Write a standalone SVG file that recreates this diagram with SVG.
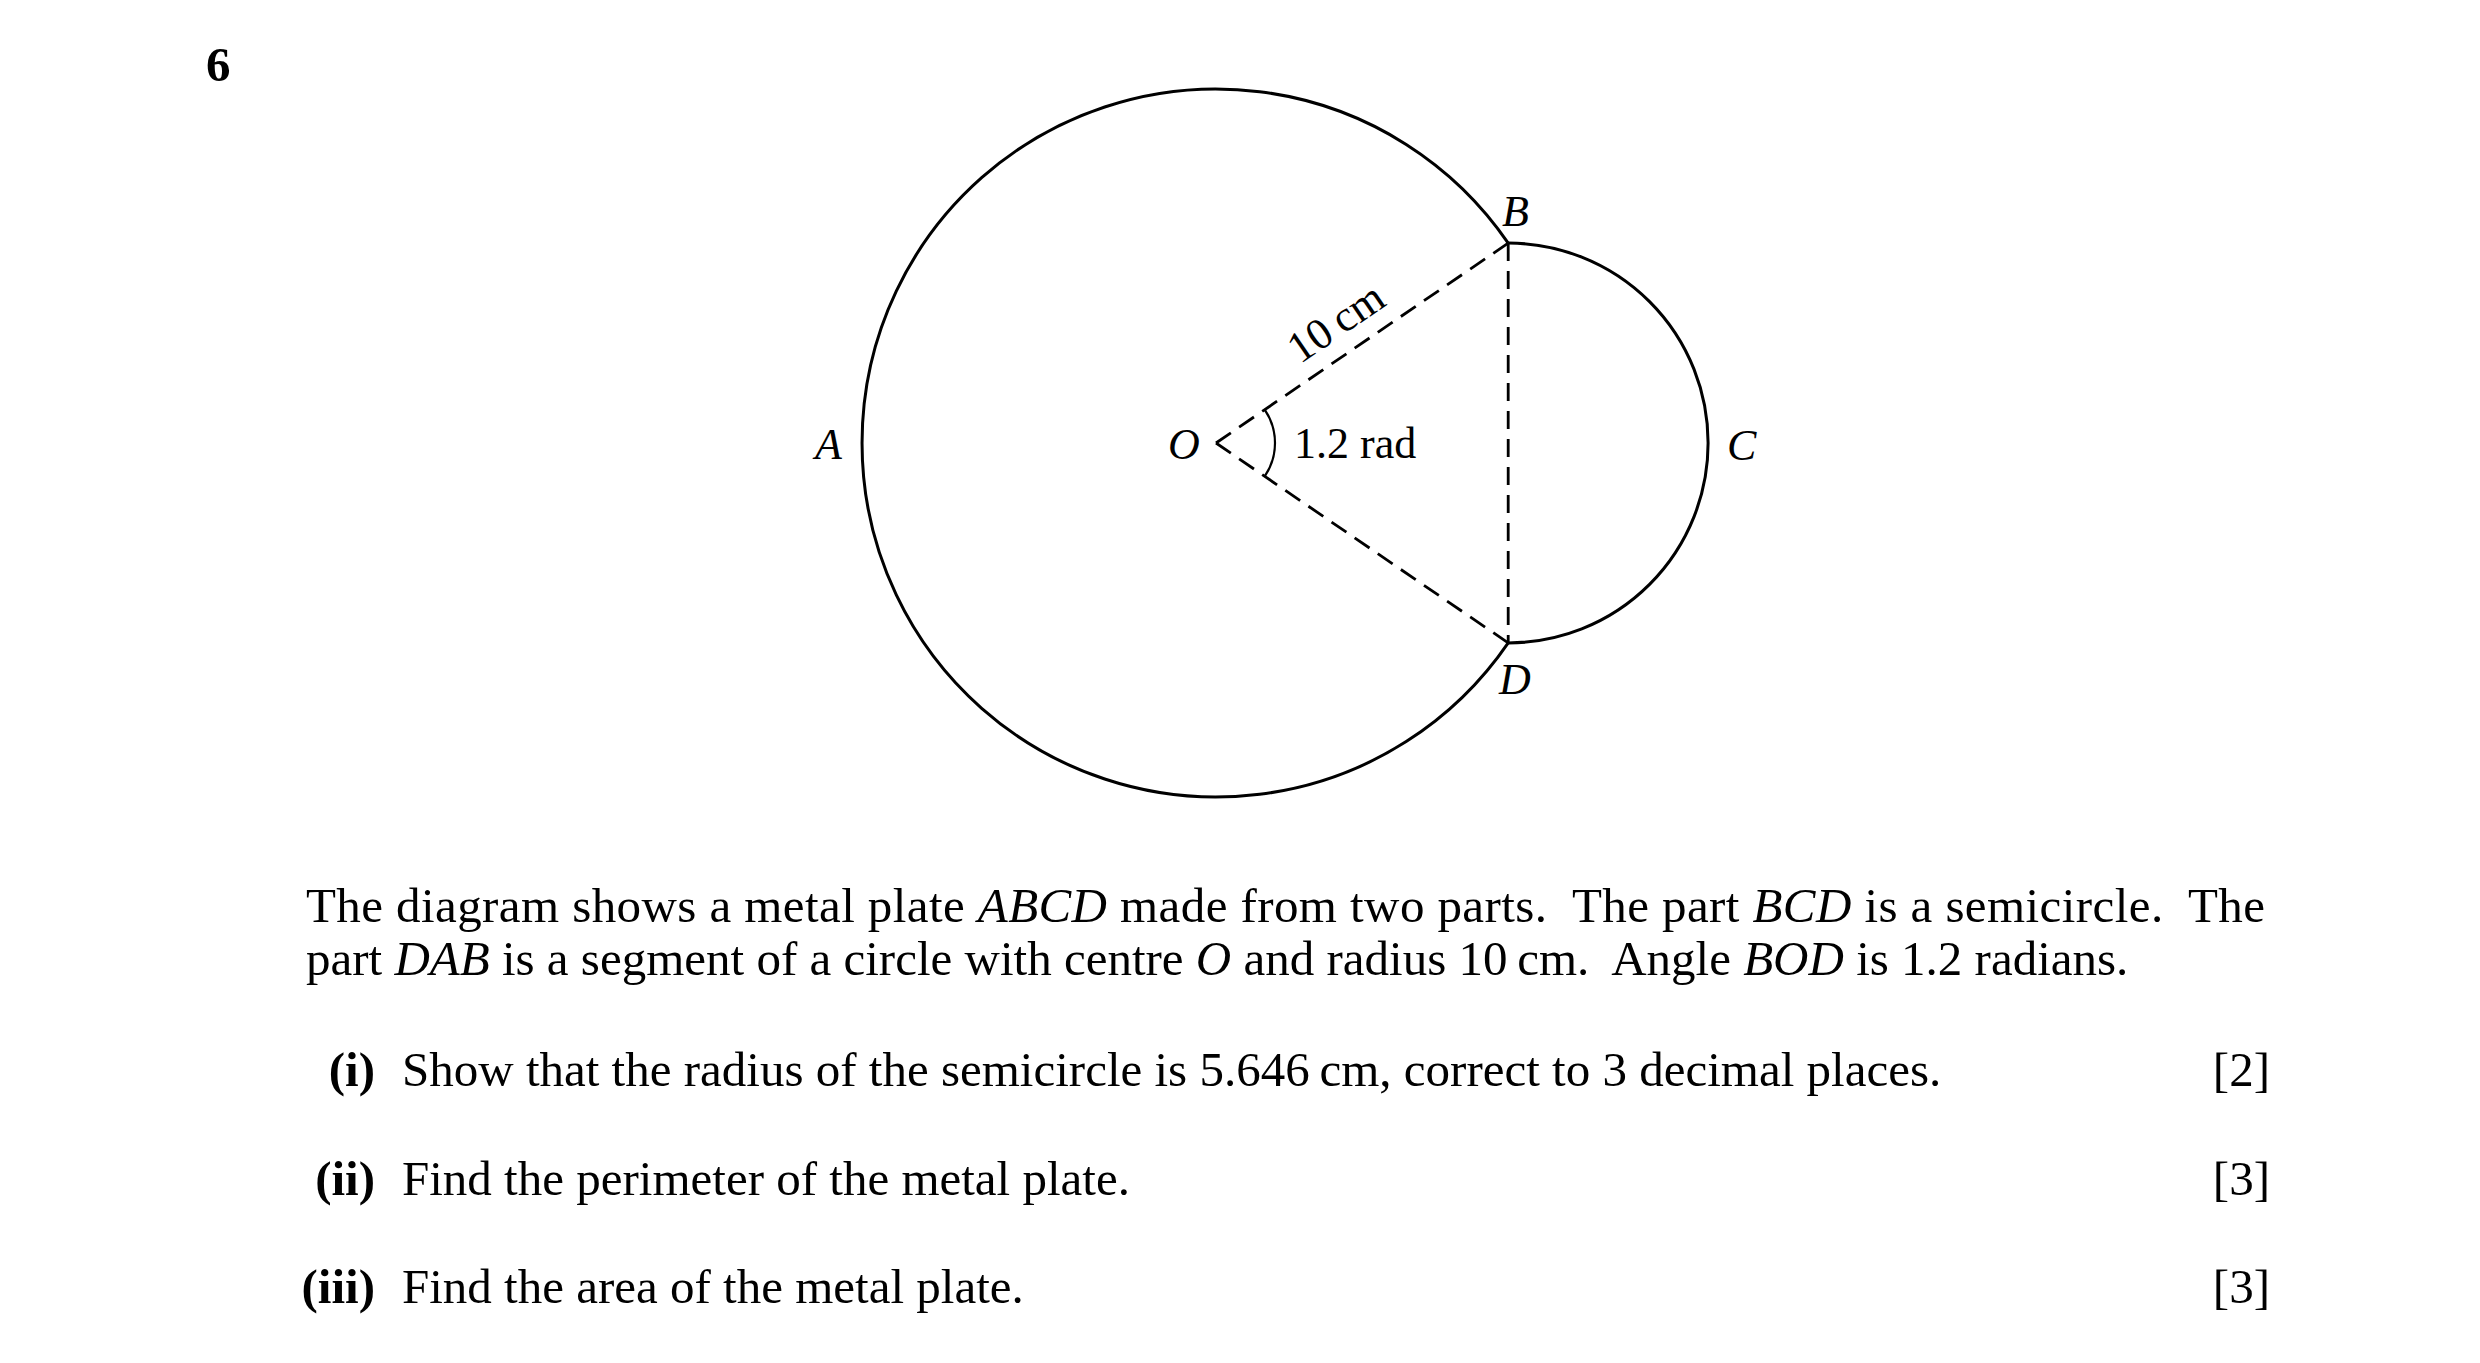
<svg xmlns="http://www.w3.org/2000/svg" width="2480" height="1363" viewBox="0 0 2480 1363">
<style>
.t{font-family:"Liberation Serif","Times New Roman",serif;font-size:49px;fill:#000;white-space:pre}
.b{font-weight:bold}
.i{font-style:italic}
.lab{font-family:"Liberation Serif","Times New Roman",serif;font-size:44px;fill:#000}
.solid{fill:none;stroke:#000;stroke-width:3}
.dash{fill:none;stroke:#000;stroke-width:2.8;stroke-dasharray:18 10}
.thin{fill:none;stroke:#000;stroke-width:2.2}
</style>
<rect width="2480" height="1363" fill="#fff"/>
<text class="t b" x="206" y="81" font-size="48">6</text>

<g id="plate">
  <path id="arc-DAB" class="solid" d="M1508.2 243.1 A354 354 0 1 0 1508.2 642.9"/>
  <path id="arc-BCD" class="solid" d="M1508.2 243.1 A199.9 199.9 0 0 1 1508.2 642.9"/>
</g>
<g id="connectors">
  <line class="dash" x1="1216" y1="443" x2="1508.2" y2="243.1"/>
  <line class="dash" x1="1216" y1="443" x2="1508.2" y2="642.9"/>
  <line class="dash" x1="1508.2" y1="243.1" x2="1508.2" y2="642.9"/>
  <path class="thin" d="M1264.7 409.7 A59 59 0 0 1 1264.7 476.3"/>
</g>
<g id="node-A"><text class="lab i" x="815" y="459">A</text></g>
<g id="node-O"><text class="lab i" x="1168" y="459">O</text></g>
<g id="node-B"><text class="lab i" x="1502" y="226">B</text></g>
<g id="node-C"><text class="lab i" x="1727" y="460">C</text></g>
<g id="node-D"><text class="lab i" x="1499" y="694">D</text></g>
<g id="label-angle"><text class="lab" x="1294" y="458">1.2 rad</text></g>
<g id="label-radius"><text class="lab" text-anchor="middle" transform="translate(1344 334.5) rotate(-34.38)">10&#8201;cm</text></g>

<g id="description">
  <text class="t" xml:space="preserve" x="306" y="922" textLength="1959" lengthAdjust="spacing">The diagram shows a metal plate <tspan class="i">ABCD</tspan> made from two parts.  The part <tspan class="i">BCD</tspan> is a semicircle.  The</text>
  <text class="t" xml:space="preserve" x="306" y="975">part <tspan class="i">DAB</tspan> is a segment of a circle with centre <tspan class="i">O</tspan> and radius 10&#8201;cm.  Angle <tspan class="i">BOD</tspan> is 1.2 radians.</text>
</g>
<g id="questions">
  <text class="t b" x="375" y="1086" text-anchor="end">(i)</text>
  <text class="t" x="402" y="1086">Show that the radius of the semicircle is 5.646&#8201;cm, correct to 3 decimal places.</text>
  <text class="t" x="2270" y="1086" text-anchor="end">[2]</text>
  <text class="t b" x="375" y="1195" text-anchor="end">(ii)</text>
  <text class="t" x="402" y="1195">Find the perimeter of the metal plate.</text>
  <text class="t" x="2270" y="1195" text-anchor="end">[3]</text>
  <text class="t b" x="375" y="1303" text-anchor="end">(iii)</text>
  <text class="t" x="402" y="1303">Find the area of the metal plate.</text>
  <text class="t" x="2270" y="1303" text-anchor="end">[3]</text>
</g>
</svg>
